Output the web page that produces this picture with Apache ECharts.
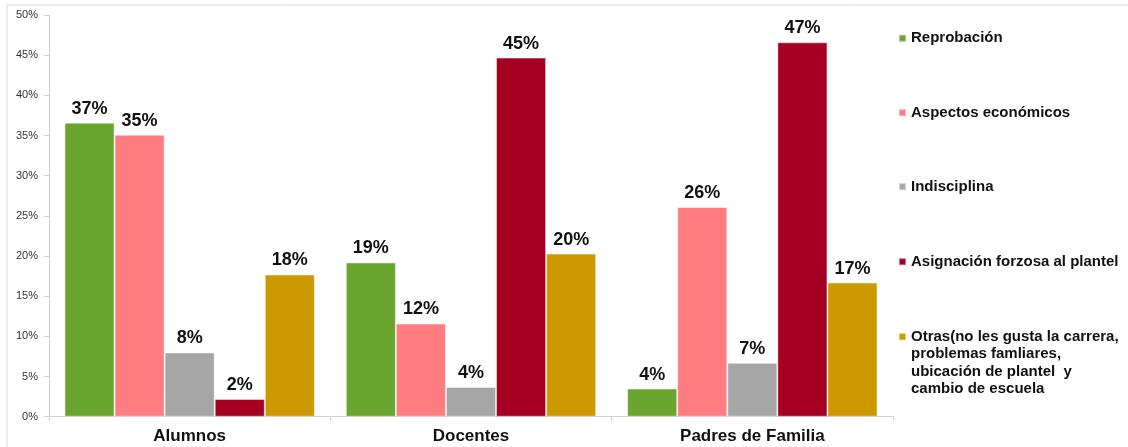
<!DOCTYPE html>
<html>
<head>
<meta charset="utf-8">
<script src="https://cdn.jsdelivr.net/npm/echarts@6/dist/echarts.min.js"></script>
<style>
html,body{margin:0;padding:0;background:#fff;}
#chart{width:1128px;height:447px;}
</style>
</head>
<body>
<div id="chart"></div>
<script>
const categories = ['Alumnos', 'Docentes', 'Padres de Familia'];
const seriesNames = ['Reprobación', 'Aspectos económicos', 'Indisciplina', 'Asignación forzosa al plantel', 'Otras(no les gusta la carrera,\nproblemas famliares,\nubicación de plantel  y\ncambio de escuela'];
const reprobacion = [36.6, 19.2, 3.5];
const economicos = [35.1, 11.6, 26.1];
const indisciplina = [8.0, 3.7, 6.7];
const asignacion = [2.2, 44.7, 46.6];
const otras = [17.7, 20.3, 16.7];
const yTicks = [0, 5, 10, 15, 20, 25, 30, 35, 40, 45, 50];

const colors = ['#6aa52f', '#ff7c80', '#a6a6a6', '#a50021', '#cc9900'];
const values = [reprobacion, economicos, indisciplina, asignacion, otras];
const legendCenters = [38.3, 112.7, 186.7, 261.7, 336.7];
const LH = 17.5;

const font = '"Liberation Sans", Arial, sans-serif';
const chart = echarts.init(document.getElementById('chart'), null, {renderer: 'canvas'});

const legends = seriesNames.map((n, i) => {
  const lines = n.split('\n').length;
  const pad = lines - 1;
  const total = lines + pad;
  return {
    show: true,
    data: [n],
    orient: 'vertical',
    left: 898,
    top: legendCenters[i] - total * LH / 2,
    itemWidth: 7,
    itemHeight: 7,
    icon: 'rect',
    itemGap: 0,
    padding: 0,
    selectedMode: false,
    formatter: name => {
      let s = '';
      for (let k = 0; k < pad; k++) s += ' \n';
      return s + name;
    },
    textStyle: {
      fontFamily: font,
      fontWeight: 'bold',
      fontSize: 15,
      color: '#111',
      lineHeight: LH
    }
  };
});

const option = {
  animation: false,
  backgroundColor: '#fff',
  textStyle: {fontFamily: font},
  graphic: [{
    type: 'rect',
    shape: {x: 7, y: 5, width: 1200, height: 600},
    style: {fill: 'none', stroke: '#d9d9d9', lineWidth: 1},
    silent: true
  }],
  legend: legends,
  grid: {left: 49, right: 235, top: 15, bottom: 30.3, containLabel: false},
  xAxis: {
    type: 'category',
    data: categories,
    axisLine: {lineStyle: {color: '#d0d0d0', width: 1}},
    axisTick: {show: true, length: 4, lineStyle: {color: '#d0d0d0'}},
    axisLabel: {fontFamily: font, fontWeight: 'bold', fontSize: 17, color: '#111', margin: 11}
  },
  yAxis: {
    type: 'value',
    min: yTicks[0],
    max: yTicks[yTicks.length - 1],
    interval: 5,
    splitLine: {show: false},
    axisLine: {show: true, lineStyle: {color: '#d0d0d0', width: 1}},
    axisTick: {show: true, length: 5, lineStyle: {color: '#d0d0d0'}},
    axisLabel: {formatter: '{value}%', fontFamily: font, fontSize: 11, color: '#333', margin: 11}
  },
  series: seriesNames.map((n, i) => ({
    name: n,
    type: 'bar',
    data: values[i],
    barGap: '0%',
    barCategoryGap: '11%',
    itemStyle: {color: colors[i], borderColor: 'rgba(255,255,255,0.45)', borderWidth: 1},
    label: {
      show: true,
      position: 'top',
      distance: 5,
      formatter: p => Math.round(p.value) + '%',
      fontFamily: font,
      fontWeight: 'bold',
      fontSize: 18,
      color: '#111'
    }
  }))
};
chart.setOption(option);
</script>
</body>
</html>
